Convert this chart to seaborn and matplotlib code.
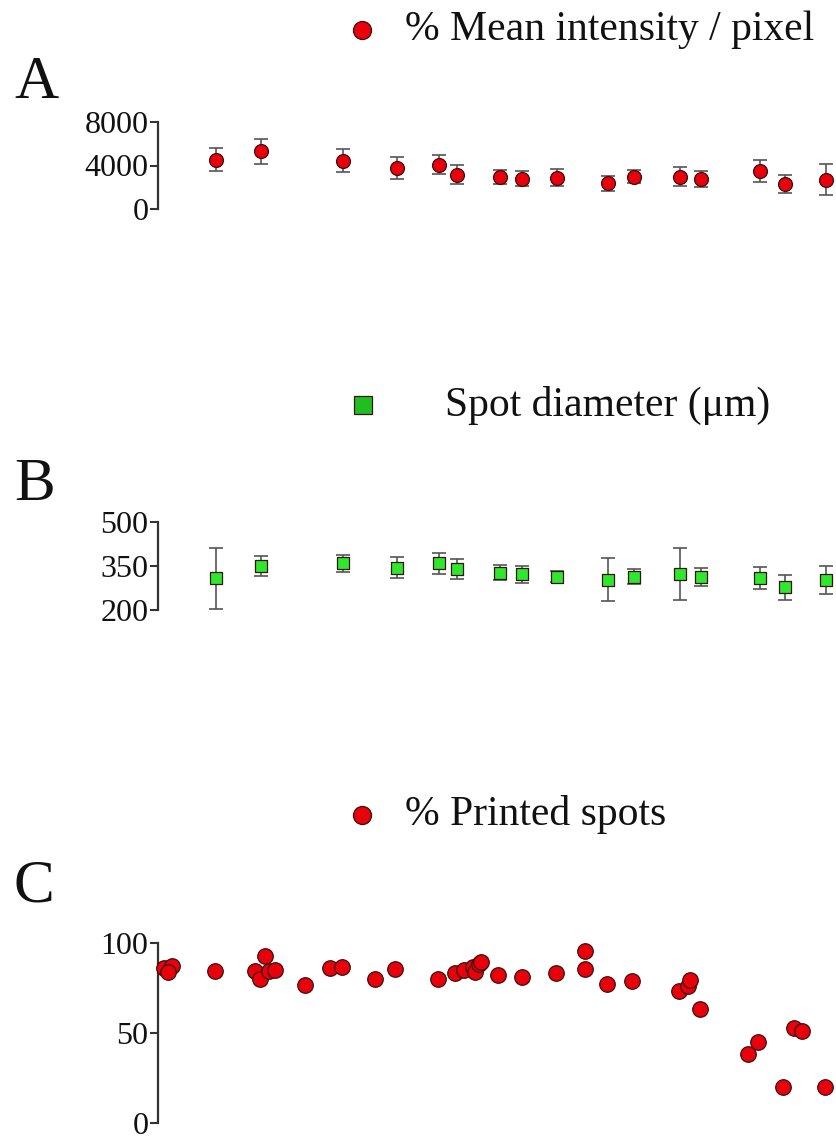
import numpy as np
import pandas as pd
import matplotlib
matplotlib.use("Agg")
import matplotlib.pyplot as plt
from matplotlib.lines import Line2D
import seaborn as sns

sns.set_theme(style="white")
plt.rcParams["font.family"] = ["Liberation Serif", "DejaVu Serif"]

# --- data ---
pos_ab = [8.4, 15.2, 27.5, 35.5, 41.8, 44.5, 51.1, 54.4, 59.6, 67.3, 71.1, 78.1, 81.2, 90.1, 93.8, 100.0]

intensity = [4540, 5290, 4450, 3790, 4060, 3160, 2950, 2800, 2860, 2350, 2980, 2980, 2740, 3490, 2290, 2680]
intensity_sd = [1080, 1190, 1080, 1020, 870, 860, 680, 690, 780, 720, 630, 870, 740, 1010, 830, 1430]

diameter = [308, 350, 359, 344, 359, 339, 327, 322, 314, 303, 314, 323, 312, 308, 278, 303]
diameter_sd = [103, 33, 30, 35, 35, 35, 26, 29, 19, 73, 27, 90, 31, 37, 43, 48]

pos_c = [0.6, 1.8, 1.2, 8.2, 14.2, 15.0, 15.7, 16.4, 17.3, 21.7, 25.5, 27.3, 32.2, 35.3,
         41.7, 44.3, 45.6, 47.0, 47.2, 47.8, 48.2, 50.8, 54.3, 59.4, 63.8, 63.8, 67.1,
         70.9, 77.9, 79.2, 79.6, 81.0, 88.2, 89.8, 93.5, 95.1, 96.3, 99.8]
printed = [86, 87, 84, 84.5, 84.2, 80.2, 92.8, 84.2, 84.8, 76.6, 86.3, 86.6, 80.2, 85.3,
           80.2, 83.5, 85.2, 86.6, 83.9, 88.5, 89.4, 82.0, 81.1, 83.3, 95.4, 85.3, 77.1,
           78.9, 73.3, 76.2, 79.3, 63.4, 38.1, 45.2, 20.1, 52.7, 50.9, 20.1]

df_ab = pd.DataFrame({"pos": pos_ab, "intensity": intensity, "diameter": diameter})
df_c = pd.DataFrame({"pos": pos_c, "printed": printed})

RED = "#e8000a"
GREEN = "#2ee82e"
EDGE = "#3a1010"

fig = plt.figure(figsize=(8.37, 11.39), dpi=100)
W, H = 837, 1139


def add_axes(top_px, bottom_px):
    return fig.add_axes([158 / W, 1 - bottom_px / H, (W - 158) / W, (bottom_px - top_px) / H])


def style(ax, ylim, ticks):
    ax.set_xlim(-0.3, 101.6)
    ax.set_ylim(*ylim)
    ax.set_yticks(ticks)
    ax.set_xticks([])
    sns.despine(ax=ax, bottom=True, right=True, top=True)
    ax.spines["left"].set_color("#333333")
    ax.spines["left"].set_linewidth(1.6)
    ax.tick_params(axis="y", direction="out", length=6, width=1.5, color="#333333",
                   labelsize=23, pad=1, left=True, labelcolor="#111111")
    ax.set_facecolor("none")
    ax.set_xlabel("")
    ax.set_ylabel("")


# A
axA = add_axes(122, 209)
axA.errorbar(pos_ab, intensity, yerr=intensity_sd, fmt="none", ecolor="#555555",
             elinewidth=1.2, capsize=5, capthick=1.2, zorder=1)
sns.scatterplot(data=df_ab, x="pos", y="intensity", ax=axA, marker="o", s=100,
                color=RED, edgecolor=EDGE, linewidth=0.9, zorder=3, clip_on=False)
style(axA, (0, 8000), [0, 4000, 8000])

# B
axB = add_axes(522, 610)
axB.errorbar(pos_ab, diameter, yerr=diameter_sd, fmt="none", ecolor="#555555",
             elinewidth=1.2, capsize=5, capthick=1.2, zorder=1)
sns.scatterplot(data=df_ab, x="pos", y="diameter", ax=axB, marker="s", s=85,
                color=GREEN, edgecolor=EDGE, linewidth=0.9, zorder=3, clip_on=False)
style(axB, (200, 500), [200, 350, 500])

# C
axC = add_axes(943, 1123)
sns.scatterplot(data=df_c, x="pos", y="printed", ax=axC, marker="o", s=125,
                color=RED, edgecolor=EDGE, linewidth=0.9, zorder=3, clip_on=False)
style(axC, (0, 100), [0, 50, 100])

# panel letters
for letter, y in [("A", 83), ("B", 485), ("C", 887)]:
    fig.text(14 / W, 1 - y / H, letter, fontsize=44, va="center", ha="left", color="#111111")

# legend-style labels
legends = [
    (362, 30, "o", RED, 405, "% Mean intensity / pixel"),
    (363, 405, "s", "#1fbf1f", 445, "Spot diameter (\u03bcm)"),
    (362, 815, "o", RED, 405, "% Printed spots"),
]
for mx, my, mk, col, tx, label in legends:
    fig.add_artist(Line2D([mx / W], [1 - my / H], transform=fig.transFigure, marker=mk,
                          markersize=13, markerfacecolor=col, markeredgecolor=EDGE,
                          markeredgewidth=0.9, linestyle="none"))
    fig.text(tx / W, 1 - my / H, label, fontsize=30, va="center", ha="left", color="#111111")

fig.savefig("out.png", dpi=100)
